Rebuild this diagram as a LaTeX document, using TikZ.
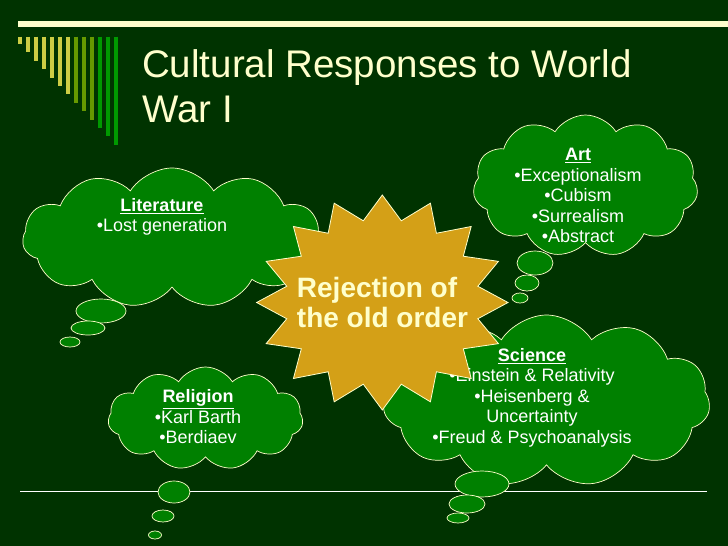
\documentclass[tikz,border=0pt]{standalone}
\usepackage{fontspec}
\setmainfont{Liberation Sans}
\usetikzlibrary{shapes.symbols,shapes.geometric}
\definecolor{fond}{RGB}{0,51,0}
\definecolor{creme}{RGB}{255,255,204}
\definecolor{vert}{RGB}{0,128,0}
\definecolor{dore}{RGB}{212,160,23}
\definecolor{jaune}{RGB}{204,204,68}
\definecolor{olive}{RGB}{102,153,0}
\definecolor{vertvif}{RGB}{0,153,0}

\begin{document}
\begin{tikzpicture}[x=1pt,y=-1pt,
  nuage/.style={cloud,cloud puffs=11,cloud puff arc=115,fill=vert,draw=creme,line width=0.7pt,inner sep=0pt},
  bulle/.style={ellipse,fill=vert,draw=creme,line width=0.7pt,inner sep=0pt},
  texte/.style={text=white,align=center,inner sep=0pt,font=\fontsize{18}{20.5}\selectfont}]
  % fond
  \fill[fond] (0,0) rectangle (728,546);
  \useasboundingbox (0,0) rectangle (728,546);
  % lignes
  \draw[creme,line width=5.5pt] (18,24) -- (728,24);
  \draw[white,line width=1.2pt] (20,491.5) -- (707,491.5);
  % barres
  \foreach \i/\c in {0/jaune,1/jaune,2/jaune,3/jaune,4/jaune,5/jaune,6/jaune,7/olive,8/olive,9/olive,10/vertvif,11/vertvif,12/vertvif}
    {\draw[\c,line width=3.5pt] (20+8*\i,36.5) -- (20+8*\i,44+8.4*\i);}
  % titre
  \node[anchor=north west,text=creme,align=left,inner sep=0pt,font=\fontsize{38.5}{45}\selectfont] (titre) at (142,49) {Cultural Responses to World\\War I};
  % literature
  \node[nuage,minimum width=299,minimum height=140] (litterature) at (172,238) {};
  \node[bulle,minimum width=50,minimum height=24] (lit1) at (101,311) {};
  \node[bulle,minimum width=34,minimum height=14] (lit2) at (88,328) {};
  \node[bulle,minimum width=20,minimum height=10] (lit3) at (70,342) {};
  \node[texte] (txtlit) at (162,217) {\textbf{\underline{Literature}}\\•Lost generation};
  % religion
  \node[nuage,minimum width=195,minimum height=103] (religion) at (205.5,418.5) {};
  \node[bulle,minimum width=32,minimum height=22] (rel1) at (174,492) {};
  \node[bulle,minimum width=22,minimum height=12] (rel2) at (163,516) {};
  \node[bulle,minimum width=13,minimum height=8] (rel3) at (155,535) {};
  \node[texte] (txtrel) at (198,417) {\textbf{\underline{Religion}}\\•Karl Barth\\•Berdiaev};
  % science
  \node[nuage,minimum width=327,minimum height=172] (science) at (546.5,401) {};
  \node[bulle,minimum width=54,minimum height=26] (sci1) at (482,484) {};
  \node[bulle,minimum width=36,minimum height=18] (sci2) at (467,504) {};
  \node[bulle,minimum width=22,minimum height=10] (sci3) at (458,518) {};
  \node[texte] (txtsci) at (532,397.5) {\textbf{\underline{Science}}\\•Einstein \& Relativity\\•Heisenberg \&\\Uncertainty\\•Freud \& Psychoanalysis};
  % étoile
  \filldraw[fill=dore,draw=creme,line width=0.8pt] plot[samples at={0,...,31},variable=\k]
    ({382.3+125.7*(1-0.225*mod(\k,2))*cos(90+11.25*\k)},{302.5-107.5*(1-0.225*mod(\k,2))*sin(90+11.25*\k)}) -- cycle;
  \node[text=creme,align=left,inner sep=0pt,font=\bfseries\fontsize{28}{30}\selectfont] (rejet) at (382.5,302) {Rejection of\\the old order};
  % art
  \node[nuage,minimum width=225,minimum height=142] (art) at (585.5,186) {};
  \node[bulle,minimum width=36,minimum height=24] (art1) at (535,263) {};
  \node[bulle,minimum width=24,minimum height=16] (art2) at (527,283) {};
  \node[bulle,minimum width=16,minimum height=10] (art3) at (520,298) {};
  \node[texte] (txtart) at (578,195.5) {\textbf{\underline{Art}}\\•Exceptionalism\\•Cubism\\•Surrealism\\•Abstract};
\end{tikzpicture}
\end{document}
